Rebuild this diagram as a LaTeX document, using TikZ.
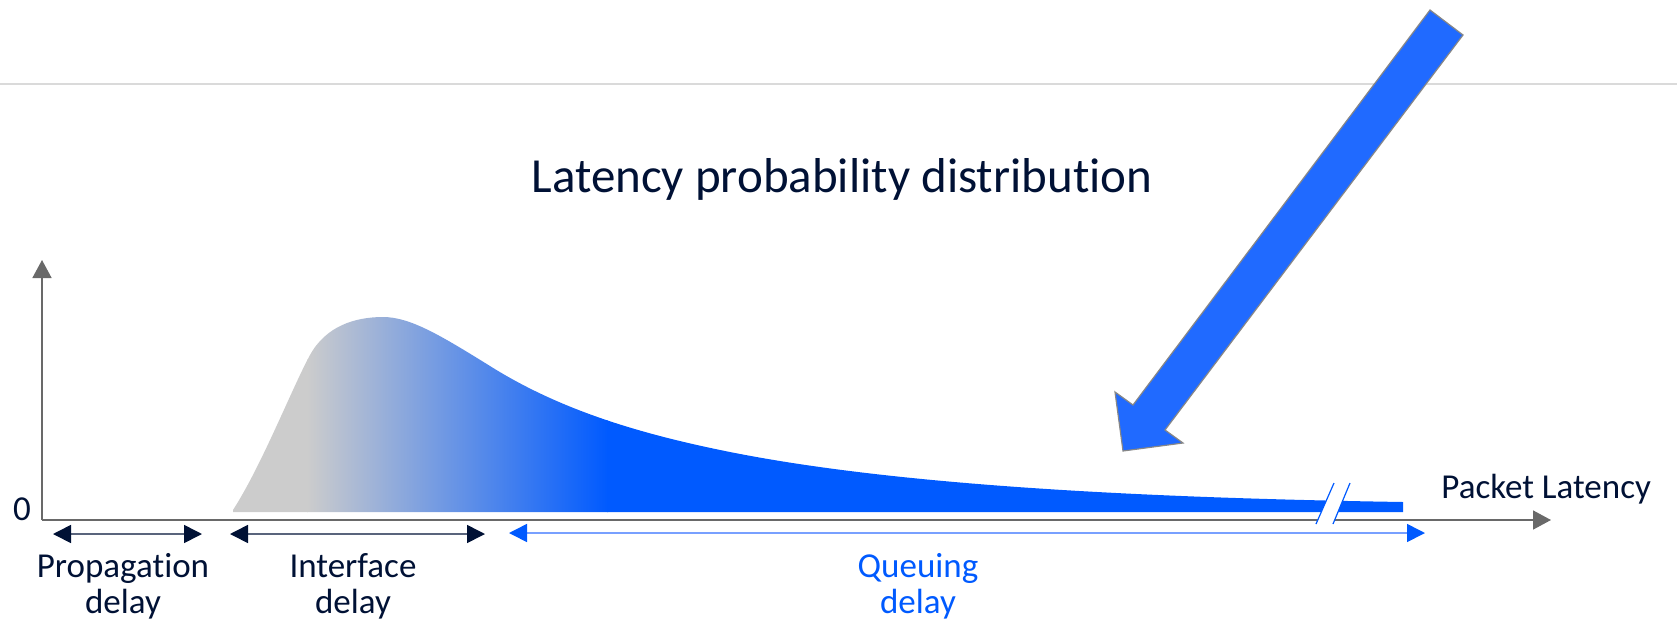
\documentclass[tikz,border=0pt]{standalone}
\usepackage{fontspec}
\setmainfont{Carlito}[Ligatures=NoCommon]
\usepackage{tikz}
\usepackage{xcolor}
\usetikzlibrary{arrows.meta,positioning,calc}
\definecolor{navytext}{RGB}{0,17,53}
\definecolor{axisgray}{RGB}{105,105,105}
\definecolor{rulegray}{RGB}{218,218,218}
\definecolor{curvegray}{RGB}{204,204,204}
\definecolor{curveblue}{RGB}{0,90,255}
\definecolor{pointerblue}{RGB}{32,106,255}
\definecolor{queueline}{RGB}{120,160,255}

\begin{document}
\begin{tikzpicture}[
  x=0.5pt, y=-0.5pt,
  font=\fontsize{17.5}{18}\selectfont,
  txt/.style={text=navytext, inner sep=0pt},
  lbl/.style={txt, align=center, anchor=north},
  axis/.style={-{Triangle[length=9pt,width=9.5pt]}, axisgray, line width=0.8pt},
  span/.style={{Triangle[length=9pt,width=9pt,color=#1]}-{Triangle[length=9pt,width=9pt,color=#1]}, line width=0.8pt},
  pointer/.style={fill=pointerblue, draw=axisgray!80, line width=0.6pt, line join=miter},
  breakline/.style={curveblue, line width=0.6pt}
]
\useasboundingbox (0,0) rectangle (1677,622);

\draw[rulegray, line width=1pt] (0,84) -- (1677,84);

\node[txt, font=\fontsize{24.5}{28}\selectfont, anchor=base] (title) at (842,192) {Latency probability distribution};

\begin{scope}
  \clip (233,510) .. controls (262,465) and (292,388) .. (310,355)
    .. controls (326,326) and (355,317) .. (383,317)
    .. controls (410,317) and (440,335) .. (490,366)
    .. controls (560,410) and (640,434) .. (730,452)
    .. controls (900,486) and (1150,498) .. (1403,502)
    -- (1403,512) -- (233,512) -- cycle;
  \fill[curvegray] (220,250) rectangle (308,530);
  \shade[left color=curvegray, right color=curveblue] (307,250) rectangle (608,530);
  \fill[curveblue] (607,250) rectangle (1420,530);
\end{scope}

\coordinate (o) at (42,520);
\coordinate (ytop) at (42,260);
\coordinate (xend) at (1551,520);
\draw[axis] (o) -- (ytop);
\draw[axis] (o) -- (xend);

\fill[white] (1316,524) -- (1334,483) -- (1350,483) -- (1333,524) -- cycle;
\draw[breakline] (1316,524) -- (1334,483);
\draw[breakline] (1333,524) -- (1350,483);

\node[txt, anchor=base] (zero) at (22,520) {0};
\node[txt, anchor=base west] (latency) at (1441,498) {Packet Latency};

\coordinate (prop-a) at (53,534);
\coordinate (prop-b) at (202,534);
\coordinate (intf-a) at (230,534);
\coordinate (intf-b) at (485,534);
\coordinate (queue-a) at (509,533);
\coordinate (queue-b) at (1425,533);
\draw[span=navytext, navytext!65] (prop-a) -- (prop-b);
\draw[span=navytext, navytext!65] (intf-a) -- (intf-b);
\draw[span=curveblue, queueline] (queue-a) -- (queue-b);

\node[lbl] (prop) at (123,553) {Propagation\\delay};
\node[lbl] (intf) at (353,553) {Interface\\delay};
\node[lbl, text=curveblue] (queue) at (918,553) {Queuing\\delay};

\draw[pointer] (1430,10) -- (1463,35) -- (1165,430) -- (1183,443) -- (1123,451) -- (1115,392) -- (1133,405) -- cycle;

\end{tikzpicture}
\end{document}
